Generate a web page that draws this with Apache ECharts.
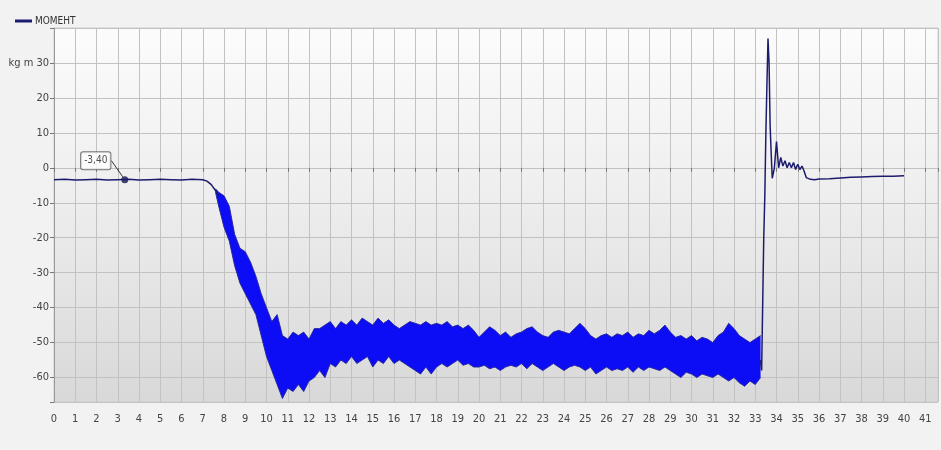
<!DOCTYPE html>
<html>
<head>
<meta charset="utf-8">
<script src="https://cdn.jsdelivr.net/npm/echarts@6/dist/echarts.min.js"></script>
<style>
  html, body { margin: 0; padding: 0; background: #f2f2f2; }
  #main { width: 941px; height: 450px; }
</style>
</head>
<body>
<div id="main"></div>
<script>
// torque before the load step (s, kg m)
const preT = [0, 0.5, 1, 1.5, 2, 2.5, 3, 3.5, 4, 4.5, 5, 5.5, 6, 6.5, 7.0, 7.2, 7.4, 7.6, 7.75];
const preV = [-3.4, -3.3, -3.5, -3.4, -3.3, -3.5, -3.4, -3.3, -3.5, -3.4, -3.3, -3.4, -3.5, -3.3, -3.4, -3.8, -4.8, -6.5, -8];

// noisy region: upper and lower envelope
const bandT = [7.6, 7.75, 8.0, 8.25, 8.5, 8.75, 9.0, 9.25, 9.5, 9.75, 10.0, 10.25, 10.5, 10.75, 11.0, 11.25, 11.5, 11.75, 12.0, 12.25, 12.5, 12.75,
  13.0, 13.25, 13.5, 13.75, 14.0, 14.25, 14.5, 14.75, 15.0, 15.25, 15.5, 15.75, 16.0, 16.25, 16.5, 16.75, 17.0, 17.25, 17.5, 17.75,
  18.0, 18.25, 18.5, 18.75, 19.0, 19.25, 19.5, 19.75, 20.0, 20.25, 20.5, 20.75, 21.0, 21.25, 21.5, 21.75, 22.0, 22.25, 22.5, 22.75,
  23.0, 23.25, 23.5, 23.75, 24.0, 24.25, 24.5, 24.75, 25.0, 25.25, 25.5, 25.75, 26.0, 26.25, 26.5, 26.75, 27.0, 27.25, 27.5, 27.75,
  28.0, 28.25, 28.5, 28.75, 29.0, 29.25, 29.5, 29.75, 30.0, 30.25, 30.5, 30.75, 31.0, 31.25, 31.5, 31.75, 32.0, 32.25, 32.5, 32.75,
  33.0, 33.25];
const bandHi = [-6, -7, -8, -11, -19, -23, -24, -27, -31, -36, -40, -44, -42, -48, -49, -47, -48, -47, -49, -46, -46, -45,
  -44, -46, -44, -45, -43.5, -45, -43, -44, -45, -43, -44.5, -43.5, -45, -46, -45, -44, -44.5, -45, -44, -45,
  -44.5, -45, -44, -45.5, -45, -46, -45, -46.5, -48.5, -47, -45.5, -46.5, -48, -47, -48.5, -47.5, -47, -46, -45.5, -47,
  -48, -48.5, -47, -46.5, -47, -47.5, -46, -44.5, -46, -48, -49, -48, -47.5, -48.5, -47.5, -48, -47, -48.5, -47.5, -48,
  -46.5, -47.5, -46.5, -45, -47, -48.5, -48, -49, -48, -49.5, -48.5, -49, -50, -48, -47, -44.5, -46, -48, -49, -50,
  -49, -48];
const bandLo = [-7, -11, -17, -21, -28, -33, -36, -39, -42, -48, -54, -58, -62, -66, -63, -64, -62, -64, -61, -60, -58, -60,
  -56, -57, -55, -56, -54, -56, -55, -54, -57, -55, -56, -54, -56, -55, -56, -57, -58, -59, -57, -59,
  -57, -56, -57, -56, -55, -56.5, -56, -57, -57, -56.5, -57.5, -57, -58, -57, -56.5, -57, -56, -57.5, -56, -57,
  -58, -57, -56, -57, -58, -57, -56.5, -57, -58, -57, -59, -58, -57, -58, -57.5, -58, -57, -58.5, -57, -58,
  -57, -57.5, -58, -57, -58, -59, -60, -58.5, -59, -60, -59, -59.5, -60, -59, -60, -61, -60, -61.5, -62.5, -61,
  -62, -60];

// spike and settling after the load is released
const postT = [33.25, 33.3, 33.4, 33.45, 33.5, 33.55, 33.6, 33.65, 33.7, 33.75, 33.8, 33.9, 34.0, 34.1, 34.2, 34.3, 34.4, 34.5, 34.6, 34.7,
  34.8, 34.9, 35.0, 35.1, 35.2, 35.3, 35.4, 35.6, 35.8, 36.0, 36.5, 37.0, 37.5, 38.0, 38.5, 39.0, 39.5, 40.0];
const postV = [-55, -58, -20, -8, 10, 24, 37, 30, 12, 4, -3, 0, 7.5, 0, 3, 0.5, 2, 0, 1.5, 0,
  1.5, -0.5, 1, -0.5, 0.5, -1, -2.8, -3.3, -3.4, -3.2, -3.1, -2.9, -2.7, -2.6, -2.5, -2.4, -2.4, -2.3];

const markerPoint = [3.33, -3.4];
const markerText = '-3,40';

const FONT = "'Liberation Sans Narrow', 'DejaVu Sans Condensed', sans-serif";
const NAVY = '#1c1c6e';

const mainData = preT.map((t, i) => [t, preV[i]])
  .concat([[7.8, null]])
  .concat(postT.map((t, i) => [t, postV[i]]));

// the whole band as one polygon: along the upper envelope, back along the lower one
function renderBand(params, api) {
  if (params.dataIndex !== 0) return null;
  const pts = [];
  for (let i = 0; i < bandT.length; i++) pts.push(api.coord([bandT[i], bandHi[i]]));
  for (let i = bandT.length - 1; i >= 0; i--) pts.push(api.coord([bandT[i], bandLo[i]]));
  return {
    type: 'polygon',
    shape: { points: pts },
    style: { fill: '#0c0cf5' }
  };
}

let myChart = echarts.init(document.getElementById('main'));
let option = {
  animation: false,
  backgroundColor: '#f2f2f2',
  textStyle: { fontFamily: FONT },
  legend: {
    data: ['МОМЕНТ'],
    left: 10, top: 11,
    icon: 'rect', itemWidth: 17, itemHeight: 3, itemGap: 4,
    textStyle: { fontSize: 10, color: '#333', fontFamily: FONT, padding: [0, 0, 0, -2] }
  },
  grid: {
    left: 54, right: 1, top: 28, bottom: 48,
    show: true,
    borderColor: '#cfcfcf', borderWidth: 1,
    backgroundColor: {
      type: 'linear', x: 0, y: 0, x2: 0, y2: 1,
      colorStops: [
        { offset: 0, color: '#fcfcfc' },
        { offset: 0.45, color: '#eeeeee' },
        { offset: 1, color: '#d8d8d8' }
      ]
    }
  },
  xAxis: {
    type: 'value', min: 0, max: 41.6, interval: 1, offset: 4,
    axisLine: { show: false },
    axisTick: { show: true, length: 4, lineStyle: { color: '#777' } },
    axisLabel: {
      margin: 8, fontSize: 11, color: '#444', fontFamily: FONT,
      formatter: v => Number.isInteger(v) ? String(v) : ''
    },
    splitLine: { show: true, lineStyle: { color: '#c2c2c2', width: 1 } }
  },
  yAxis: {
    type: 'value', min: -67, max: 40, splitNumber: 11,
    axisLine: { show: true, lineStyle: { color: '#999' } },
    axisTick: { show: true, length: 4, lineStyle: { color: '#777' } },
    axisLabel: {
      margin: 5, fontSize: 11, color: '#444', fontFamily: FONT,
      formatter: v => {
        if (v % 10 !== 0 || v === 40) return '';
        return v === 30 ? 'kg m 30' : String(v);
      }
    },
    splitLine: { show: true, lineStyle: { color: '#c2c2c2', width: 1 } }
  },
  series: [
    {
      name: 'band', type: 'custom', silent: true,
      renderItem: renderBand,
      encode: { x: 0, y: [1, 2] },
      data: bandT.map((t, i) => [t, bandHi[i], bandLo[i]])
    },
    {
      name: 'bandHi', type: 'line', symbol: 'none', silent: true,
      lineStyle: { color: '#23239a', width: 0.9 },
      data: bandT.map((t, i) => [t, bandHi[i]])
    },
    {
      name: 'bandLo', type: 'line', symbol: 'none', silent: true,
      lineStyle: { color: '#23239a', width: 0.9 },
      data: bandT.map((t, i) => [t, bandLo[i]])
    },
    {
      name: 'МОМЕНТ', type: 'line', symbol: 'none',
      color: NAVY,
      lineStyle: { color: NAVY, width: 1.5 },
      connectNulls: false,
      data: mainData
    },
    {
      name: 'marker', type: 'scatter', symbol: 'circle', symbolSize: 7,
      itemStyle: { color: '#15154a' },
      data: [markerPoint],
      label: {
        show: true, position: 'inside',
        formatter: markerText,
        fontSize: 10, color: '#222', fontFamily: FONT,
        backgroundColor: '#ffffff', borderColor: '#555', borderWidth: 1,
        borderRadius: 2, padding: [4, 3, 3, 3]
      },
      labelLayout: { dx: -29, dy: -19 },
      labelLine: { show: true, lineStyle: { color: '#333', width: 1 } }
    }
  ]
};
myChart.setOption(option);
</script>
</body>
</html>
